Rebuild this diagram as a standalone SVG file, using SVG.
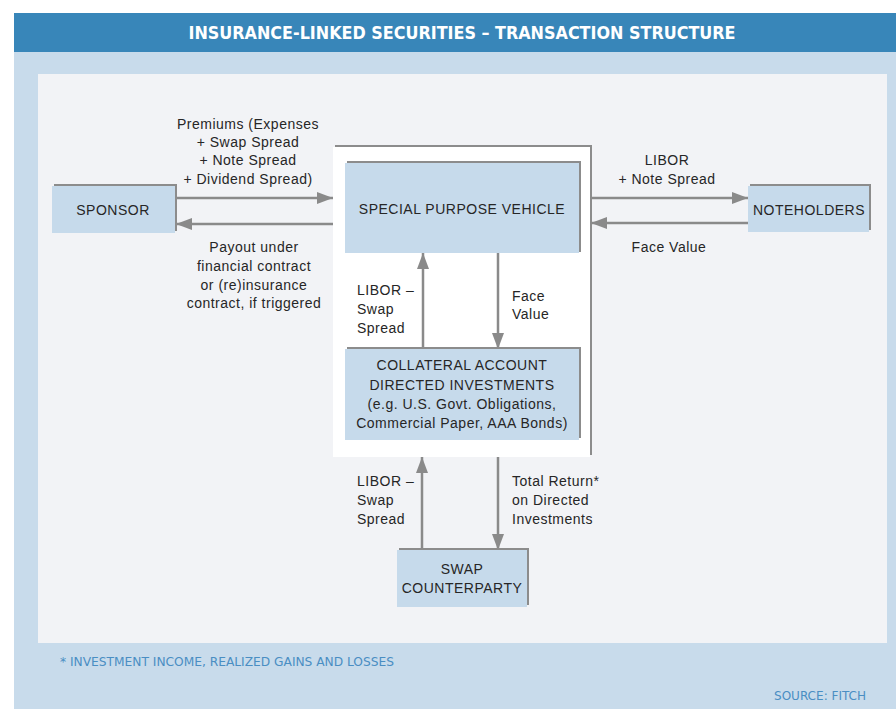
<svg xmlns="http://www.w3.org/2000/svg" width="896" height="709" viewBox="0 0 896 709">
<defs>
<style>
.t{font-family:"Liberation Sans",Arial,sans-serif;font-size:14px;fill:#262626;letter-spacing:0.5px}
.c{text-anchor:middle}
.box{fill:#c6daeb}
.sh{fill:#8c8c8c}
.ln{stroke:#8a8a8a;stroke-width:2.5;fill:none}
.foot{font-family:"DejaVu Sans Condensed","DejaVu Sans","Liberation Sans",sans-serif;font-stretch:condensed;font-size:12.5px;fill:#4a8ec3}
.title{font-family:"DejaVu Sans Condensed","DejaVu Sans","Liberation Sans",sans-serif;font-stretch:condensed;font-size:18px;font-weight:bold;fill:#ffffff}
</style>
<marker id="ah" markerUnits="userSpaceOnUse" markerWidth="16" markerHeight="12" refX="16" refY="6" orient="auto">
<path d="M0,0 L16,6 L0,12 z" fill="#8a8a8a"/>
</marker>
</defs>
<rect x="0" y="0" width="896" height="709" fill="#ffffff"/>
<rect x="14" y="13" width="882" height="696" fill="#c8dbeb"/>
<rect x="14" y="13" width="882" height="39" fill="#3886b9"/>
<text class="title" x="462" y="39" text-anchor="middle" textLength="547" lengthAdjust="spacingAndGlyphs">INSURANCE-LINKED SECURITIES – TRANSACTION STRUCTURE</text>
<rect x="38" y="74" width="849" height="569" fill="#f2f3f6"/>

<g id="container">
<rect class="sh" x="335" y="145" width="257" height="310"/>
<rect x="333" y="147" width="257" height="310" fill="#ffffff"/>
</g>

<g id="connectors">
<line class="ln" x1="175" y1="198" x2="333" y2="198" marker-end="url(#ah)"/>
<line class="ln" x1="333" y1="224" x2="176" y2="224" marker-end="url(#ah)"/>
<line class="ln" x1="590" y1="198" x2="748" y2="198" marker-end="url(#ah)"/>
<line class="ln" x1="748" y1="223" x2="591" y2="223" marker-end="url(#ah)"/>
<line class="ln" x1="423" y1="349" x2="423" y2="253" marker-end="url(#ah)"/>
<line class="ln" x1="498" y1="253" x2="498" y2="349" marker-end="url(#ah)"/>
<line class="ln" x1="422" y1="550" x2="422" y2="457" marker-end="url(#ah)"/>
<line class="ln" x1="498" y1="457" x2="498" y2="550" marker-end="url(#ah)"/>
</g>

<g id="sponsor">
<rect class="sh" x="54" y="184" width="123" height="47"/>
<rect class="box" x="52" y="186" width="123" height="47"/>
<text class="t c" x="113" y="215">SPONSOR</text>
</g>

<g id="spv">
<rect class="sh" x="347" y="161" width="234" height="91"/>
<rect class="box" x="345" y="163" width="234" height="90"/>
<text class="t c" x="462" y="214">SPECIAL PURPOSE VEHICLE</text>
</g>

<g id="noteholders">
<rect class="sh" x="750" y="184" width="121" height="46"/>
<rect class="box" x="748" y="186" width="121" height="46"/>
<text class="t c" x="809" y="215">NOTEHOLDERS</text>
</g>

<g id="collateral">
<rect class="sh" x="347" y="347" width="234" height="91"/>
<rect class="box" x="345" y="349" width="234" height="91"/>
<text class="t c" x="462" y="370">COLLATERAL ACCOUNT</text>
<text class="t c" x="462" y="390">DIRECTED INVESTMENTS</text>
<text class="t c" x="462" y="409">(e.g. U.S. Govt. Obligations,</text>
<text class="t c" x="462" y="428">Commercial Paper, AAA Bonds)</text>
</g>

<g id="swap">
<rect class="sh" x="399" y="548" width="130" height="57"/>
<rect class="box" x="397" y="550" width="130" height="57"/>
<text class="t c" x="462" y="574">SWAP</text>
<text class="t c" x="462" y="593">COUNTERPARTY</text>
</g>

<g id="labels">
<text class="t c" x="248" y="129">Premiums (Expenses</text>
<text class="t c" x="248" y="147">+ Swap Spread</text>
<text class="t c" x="248" y="165">+ Note Spread</text>
<text class="t c" x="248" y="184">+ Dividend Spread)</text>
<text class="t c" x="254" y="252">Payout under</text>
<text class="t c" x="254" y="271">financial contract</text>
<text class="t c" x="254" y="290">or (re)insurance</text>
<text class="t c" x="254" y="308">contract, if triggered</text>
<text class="t c" x="667" y="165">LIBOR</text>
<text class="t c" x="667" y="184">+ Note Spread</text>
<text class="t c" x="669" y="252">Face Value</text>
<text class="t" x="357" y="295">LIBOR –</text>
<text class="t" x="357" y="314">Swap</text>
<text class="t" x="357" y="333">Spread</text>
<text class="t" x="512" y="301">Face</text>
<text class="t" x="512" y="319">Value</text>
<text class="t" x="357" y="486">LIBOR –</text>
<text class="t" x="357" y="505">Swap</text>
<text class="t" x="357" y="524">Spread</text>
<text class="t" x="512" y="486">Total Return*</text>
<text class="t" x="512" y="505">on Directed</text>
<text class="t" x="512" y="524">Investments</text>
</g>

<text class="foot" x="60" y="666" textLength="334" lengthAdjust="spacingAndGlyphs">* INVESTMENT INCOME, REALIZED GAINS AND LOSSES</text>
<text class="foot" x="774" y="700" textLength="92" lengthAdjust="spacingAndGlyphs">SOURCE: FITCH</text>
</svg>
